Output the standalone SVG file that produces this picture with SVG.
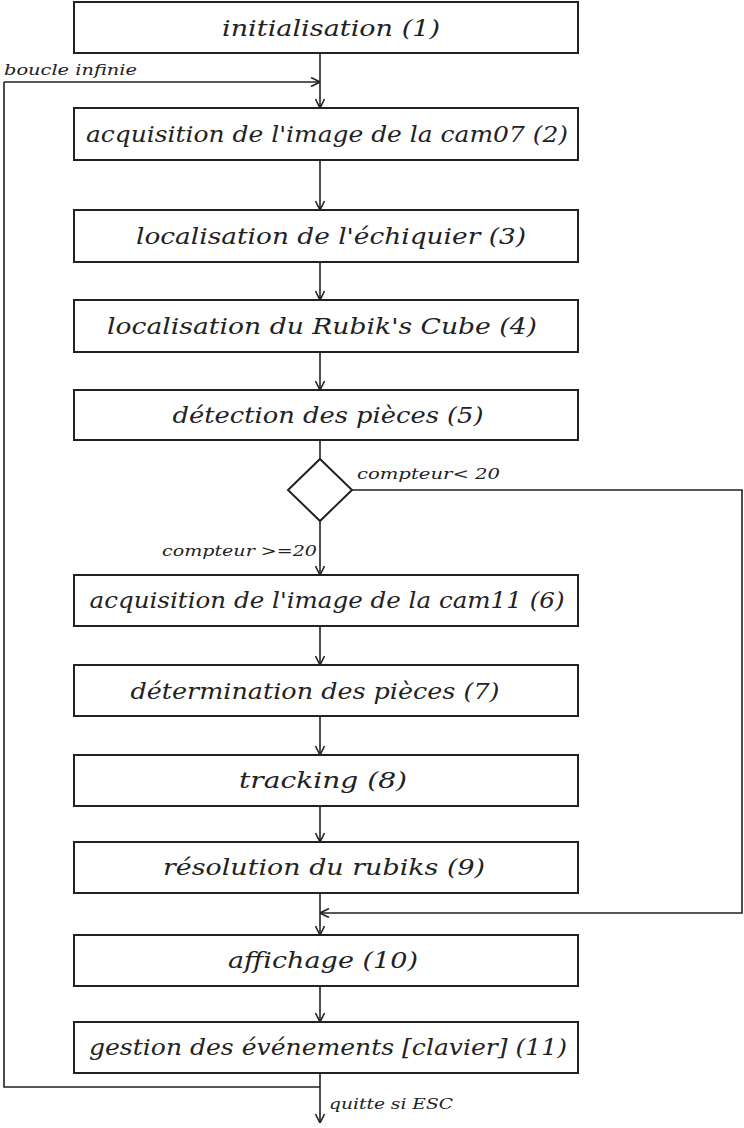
<svg xmlns="http://www.w3.org/2000/svg" width="744" height="1128" viewBox="0 0 744 1128">
<style>
.box{fill:#fff;stroke:#222;stroke-width:2}
.t{font-family:"DejaVu Serif","Liberation Serif",serif;font-style:italic;font-size:23px;fill:#222;text-anchor:middle}
.l{font-family:"DejaVu Serif","Liberation Serif",serif;font-style:italic;font-size:14px;fill:#222}
.c{fill:none;stroke:#222;stroke-width:1.6}
</style>
<defs>
<marker id="a" viewBox="0 0 10 10" refX="10" refY="5" markerWidth="10" markerHeight="10" markerUnits="userSpaceOnUse" orient="auto">
<path d="M1,0.5 L10,5 L1,9.5" fill="none" stroke="#222" stroke-width="1.6"/>
</marker>
</defs>
<g id="connectors">
<path class="c" d="M320,53 V108" marker-end="url(#a)"/>
<path class="c" d="M4,82 H320" marker-end="url(#a)"/>
<path class="c" d="M320,160 V210" marker-end="url(#a)"/>
<path class="c" d="M320,262 V300" marker-end="url(#a)"/>
<path class="c" d="M320,352 V390" marker-end="url(#a)"/>
<path class="c" d="M320,440 V459"/>
<path class="c" d="M320,521 V575" marker-end="url(#a)"/>
<path class="c" d="M320,626 V665" marker-end="url(#a)"/>
<path class="c" d="M320,716 V755" marker-end="url(#a)"/>
<path class="c" d="M320,806 V842" marker-end="url(#a)"/>
<path class="c" d="M320,893 V935" marker-end="url(#a)"/>
<path class="c" d="M352,490 H742 V913 H320" marker-end="url(#a)"/>
<path class="c" d="M320,986 V1022" marker-end="url(#a)"/>
<path class="c" d="M320,1073 V1123" marker-end="url(#a)"/>
<path class="c" d="M320,1087 H4 V82"/>
<text class="l" x="4" y="75" textLength="133" lengthAdjust="spacingAndGlyphs">boucle infinie</text>
<text class="l" x="357" y="479" textLength="143" lengthAdjust="spacingAndGlyphs">compteur&lt; 20</text>
<text class="l" x="162" y="556" textLength="155" lengthAdjust="spacingAndGlyphs">compteur &gt;=20</text>
<text class="l" x="329" y="1109" textLength="124" lengthAdjust="spacingAndGlyphs">quitte si ESC</text>
</g>
<g id="n1"><rect class="box" x="74" y="2" width="504" height="51"/><text class="t" x="331" y="36" textLength="218" lengthAdjust="spacingAndGlyphs">initialisation (1)</text></g>
<g id="n2"><rect class="box" x="74" y="108" width="504" height="52"/><text class="t" x="327" y="142" textLength="482" lengthAdjust="spacingAndGlyphs">acquisition de l'image de la cam07 (2)</text></g>
<g id="n3"><rect class="box" x="74" y="210" width="504" height="52"/><text class="t" x="331" y="244" textLength="390" lengthAdjust="spacingAndGlyphs">localisation de l'échiquier (3)</text></g>
<g id="n4"><rect class="box" x="74" y="300" width="504" height="52"/><text class="t" x="322" y="334" textLength="430" lengthAdjust="spacingAndGlyphs">localisation du Rubik's Cube (4)</text></g>
<g id="n5"><rect class="box" x="74" y="390" width="504" height="50"/><text class="t" x="328" y="423" textLength="311" lengthAdjust="spacingAndGlyphs">détection des pièces (5)</text></g>
<g id="d"><path class="box" d="M320,459 L352,490 L320,521 L288,490 Z"/></g>
<g id="n6"><rect class="box" x="74" y="575" width="504" height="51"/><text class="t" x="327" y="608" textLength="475" lengthAdjust="spacingAndGlyphs">acquisition de l'image de la cam11 (6)</text></g>
<g id="n7"><rect class="box" x="74" y="665" width="504" height="51"/><text class="t" x="315" y="699" textLength="369" lengthAdjust="spacingAndGlyphs">détermination des pièces (7)</text></g>
<g id="n8"><rect class="box" x="74" y="755" width="504" height="51"/><text class="t" x="323" y="788" textLength="168" lengthAdjust="spacingAndGlyphs">tracking (8)</text></g>
<g id="n9"><rect class="box" x="74" y="842" width="504" height="51"/><text class="t" x="324" y="875" textLength="322" lengthAdjust="spacingAndGlyphs">résolution du rubiks (9)</text></g>
<g id="n10"><rect class="box" x="74" y="935" width="504" height="51"/><text class="t" x="323" y="968" textLength="190" lengthAdjust="spacingAndGlyphs">affichage (10)</text></g>
<g id="n11"><rect class="box" x="74" y="1022" width="504" height="51"/><text class="t" x="328" y="1055" textLength="478" lengthAdjust="spacingAndGlyphs">gestion des événements [clavier] (11)</text></g>
</svg>
